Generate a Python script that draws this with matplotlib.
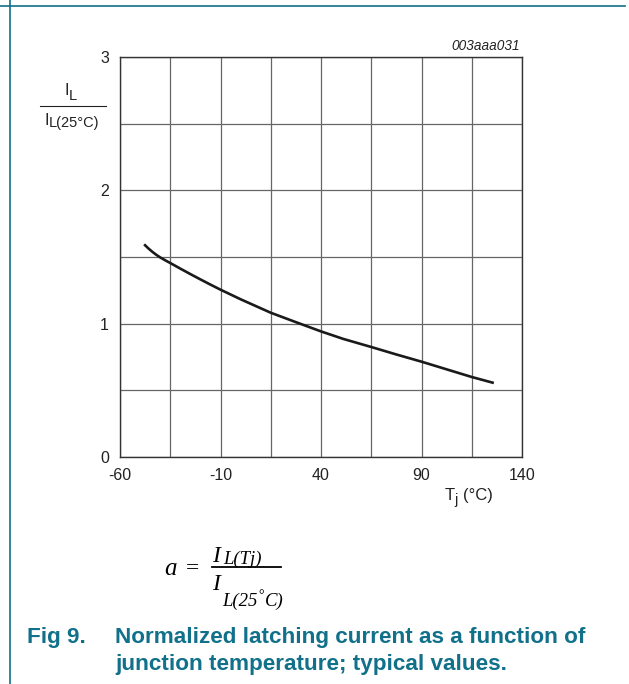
import numpy as np
import matplotlib.pyplot as plt
from matplotlib.lines import Line2D

# data
tj = [-48, -46, -44, -42, -40, -37, -35, -30, -25, -20, -15, -10, 0, 15, 27.4, 40, 51, 65,
      77.7, 90, 102.6, 115, 126]
ratio = [1.595, 1.566, 1.540, 1.517, 1.497, 1.471, 1.455, 1.413, 1.372, 1.332, 1.293, 1.255,
         1.183, 1.082, 1.012, 0.942, 0.886, 0.825, 0.768, 0.715, 0.657, 0.60, 0.555]

xticks = [-60, -35, -10, 15, 40, 65, 90, 115, 140]
xlabels = ['-60', '', '-10', '', '40', '', '90', '', '140']
yticks = [0, 0.5, 1, 1.5, 2, 2.5, 3]
ylabels = ['0', '', '1', '', '2', '', '3']

teal = '#11708a'
ink = '#222222'
sans = 'Liberation Sans'
serif = 'Liberation Serif'
W, H = 629, 684

fig = plt.figure(figsize=(W / 100, H / 100), dpi=100)
ax = fig.add_axes([120 / W, 1 - 457 / H, 402 / W, 400 / H])

ax.plot(tj, ratio, color='#1a1a1a', lw=1.9, solid_capstyle='butt', solid_joinstyle='round')
ax.set_xlim(-60, 140)
ax.set_ylim(0, 3)
ax.set_xticks(xticks)
ax.set_xticklabels(xlabels)
ax.set_yticks(yticks)
ax.set_yticklabels(ylabels)
ax.tick_params(length=0, labelsize=11.5, pad=8, colors=ink)
for lab in ax.get_xticklabels() + ax.get_yticklabels():
    lab.set_family(sans)
ax.grid(True, color='#666666', lw=0.9)
for s in ax.spines.values():
    s.set_color('#333333')
    s.set_linewidth(1.0)

def px(x, y):
    return x / W, 1 - y / H

def put(x, y, s, **kw):
    kw.setdefault('va', 'baseline')
    kw.setdefault('ha', 'left')
    fig.text(*px(x, y), s, **kw)

# y axis label (fraction)
put(65, 95, 'I', fontsize=11.5, family=sans, color=ink)
put(69, 99.5, 'L', fontsize=10.5, family=sans, color=ink)
fig.add_artist(Line2D([40 / W, 106 / W], [1 - 106 / H, 1 - 106 / H], color=ink, lw=0.8))
put(45, 125, 'I', fontsize=11.5, family=sans, color=ink)
put(49, 127, 'L(25°C)', fontsize=10.5, family=sans, color=ink)

# x axis label
put(445, 500, 'T', fontsize=12, family=sans, color=ink)
put(454, 504, 'j', fontsize=10.5, family=sans, color=ink)
put(463, 500, '(°C)', fontsize=12, family=sans, color=ink)

put(520, 50.5, '003aaa031', ha='right', fontsize=9.8, style='italic', family=sans, color=ink)

# formula a = I_L(Tj) / I_L(25°C)
put(164, 575, 'a', fontsize=18, family=serif, style='italic')
put(186, 574, '=', fontsize=17, family=serif)
put(212, 562, 'I', fontsize=17, family=serif, style='italic')
put(223, 563.5, 'L(Tj)', fontsize=13.5, family=serif, style='italic')
fig.add_artist(Line2D([212 / W, 281 / W], [1 - 567 / H, 1 - 567 / H], color='black', lw=1.3))
put(212, 590, 'I', fontsize=17, family=serif, style='italic')
put(222, 606, 'L(25', fontsize=13.5, family=serif, style='italic')
put(258, 599, '°', fontsize=10, family=serif)
put(265, 606, 'C)', fontsize=13.5, family=serif, style='italic')

# caption
cap = dict(fontsize=16.2, weight='bold', color=teal, family=sans)
put(27, 643, 'Fig 9.', **cap)
put(115, 643, 'Normalized latching current as a function of', **cap)
put(115, 670, 'junction temperature; typical values.', **cap)

# page rules
fig.add_artist(Line2D([0, 625 / W], [1 - 5.5 / H, 1 - 5.5 / H], color=teal, lw=1.2))
fig.add_artist(Line2D([9.5 / W, 9.5 / W], [0, 1], color=teal, lw=1.2))

fig.savefig('out.png', dpi=100)
